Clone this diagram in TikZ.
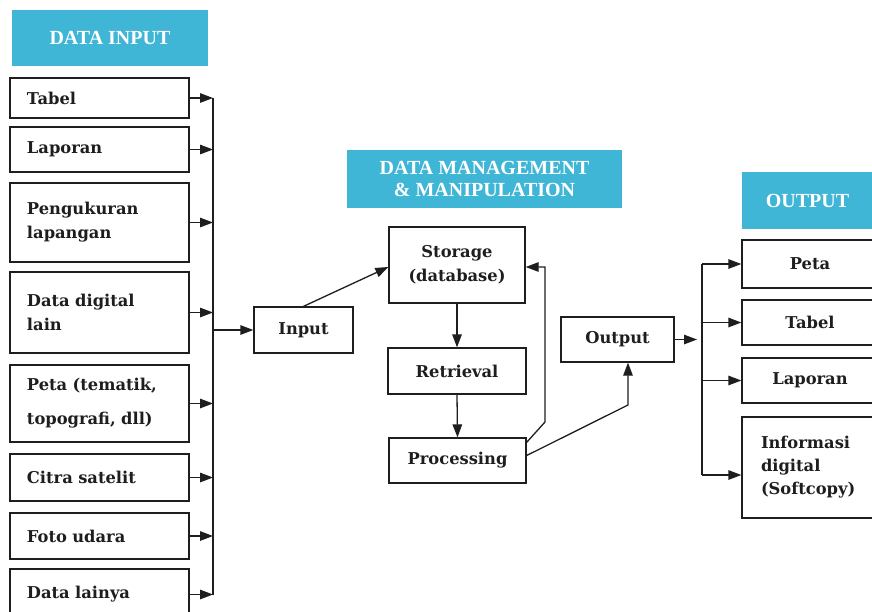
\documentclass[tikz,border=0pt]{standalone}
\usepackage{fontspec}
\setmainfont{DejaVu Serif}
\newfontfamily\banfont{Liberation Serif}
\usetikzlibrary{arrows.meta}
\definecolor{banblue}{RGB}{64,182,214}
\definecolor{ink}{RGB}{30,30,30}
\begin{document}
\begin{tikzpicture}[x=1pt,y=-1pt,
  every node/.style={inner sep=0pt},
  box/.style={draw=ink, line width=1.3pt, font=\fontsize{16.3}{24}\selectfont\bfseries, text=ink},
  lbox/.style={box, text width=145pt, inner xsep=17pt, align=left, minimum width=179pt},
  cbox/.style={box, align=center},
  rbox/.style={box, minimum width=136pt, text width=98pt, inner xsep=19pt},
  banner/.style={fill=banblue, text=white, font=\banfont\fontsize{20}{23}\selectfont\bfseries, align=center},
  arr/.style={draw=ink, line width=1.3pt, -{Triangle[length=13pt,width=9.5pt]}},
  ln/.style={draw=ink, line width=1.3pt}]
\useasboundingbox (0,0) rectangle (872,611);
\clip (0,0) rectangle (872,611);
\fill[white] (0,0) rectangle (872,611);

% banners
\node[banner, minimum width=196pt, minimum height=56pt] (bin) at (110,38) {DATA INPUT};
\node[banner, minimum width=275pt, minimum height=58pt] (bmm) at (484.5,179) {DATA MANAGEMENT\\[-1pt]\& MANIPULATION};
\node[banner, minimum width=131pt, minimum height=57pt] (bout) at (807.5,200.5) {OUTPUT};

% left boxes
\node[lbox, minimum height=40pt] (tabel) at (99.5,98) {Tabel};
\node[lbox, minimum height=45pt] (laporan) at (99.5,149.5) {Laporan};
\node[lbox, minimum height=79pt] (ukur) at (99.5,222.5) {Pengukuran\\lapangan};
\node[lbox, minimum height=81pt] (digital) at (99.5,312.5) {Data digital\\lain};
\node[lbox, minimum height=77pt] (peta) at (99.5,403.5) {Peta (tematik,\\[10pt]topografi, dll)};
\node[lbox, minimum height=47pt] (citra) at (99.5,477.5) {Citra satelit};
\node[lbox, minimum height=46pt] (foto) at (99.5,536) {Foto udara};
\node[lbox, minimum height=51pt] (lainya) at (99.5,594.5) {Data lainya};

\coordinate (busL) at (213,0);
\foreach \n in {tabel,laporan,ukur,digital,peta,citra,foto,lainya}
  \draw[arr] (\n.east) -- (\n.east -| busL);
\draw[ln] (tabel.east -| busL) -- (lainya.east -| busL);

% middle
\node[cbox, minimum width=99pt, minimum height=46pt] (input) at (303.5,330) {Input};
\draw[arr] (busL |- input.west) -- (input.west);
\node[cbox, minimum width=136pt, minimum height=76pt] (storage) at (457,265) {Storage\\(database)};
\node[cbox, minimum width=138pt, minimum height=46pt] (retr) at (457,371) {Retrieval};
\node[cbox, minimum width=137pt, minimum height=45pt] (proc) at (457.5,460.5) {Processing};
\node[cbox, minimum width=113pt, minimum height=45pt] (outm) at (617.5,339.5) {Output};

\draw[arr] (input.north) -- ([yshift=-2pt]storage.west);
\draw[arr] (storage.south) -- (retr.north);
\draw[arr] (retr.south) -- (proc.north);
\coordinate (fb) at (545,422);
\draw[arr] ([yshift=-5pt]proc.north east) -- (fb) |- ([yshift=-2pt]storage.east);
\coordinate (pk) at (628,405);
\draw[arr] ([yshift=5pt]proc.east) -- (pk) -- (pk |- outm.south);

% right
\coordinate (busR) at (702,0);
\coordinate (tipR) at (697,0);
\draw[arr] (outm.east) -- (tipR |- outm.east);
\node[rbox, align=center, minimum height=48pt] (rpeta) at (810,264) {Peta};
\node[rbox, align=center, minimum height=45pt] (rtabel) at (810,322.5) {Tabel};
\node[rbox, align=center, minimum height=45pt] (rlap) at (810,380.5) {Laporan};
\node[rbox, align=left, minimum height=101pt] (rinfo) at (810,467.5) {Informasi\\[-1pt]digital\\[-1pt](Softcopy)};
\coordinate (ri) at ([yshift=-7.5pt]rinfo.west);
\draw[ln] (busR |- rpeta.west) -- (busR |- ri);
\foreach \n in {rpeta,rtabel,rlap}
  \draw[arr] (busR |- \n.west) -- (\n.west);
\draw[arr] (busR |- ri) -- (ri);
\end{tikzpicture}
\end{document}
